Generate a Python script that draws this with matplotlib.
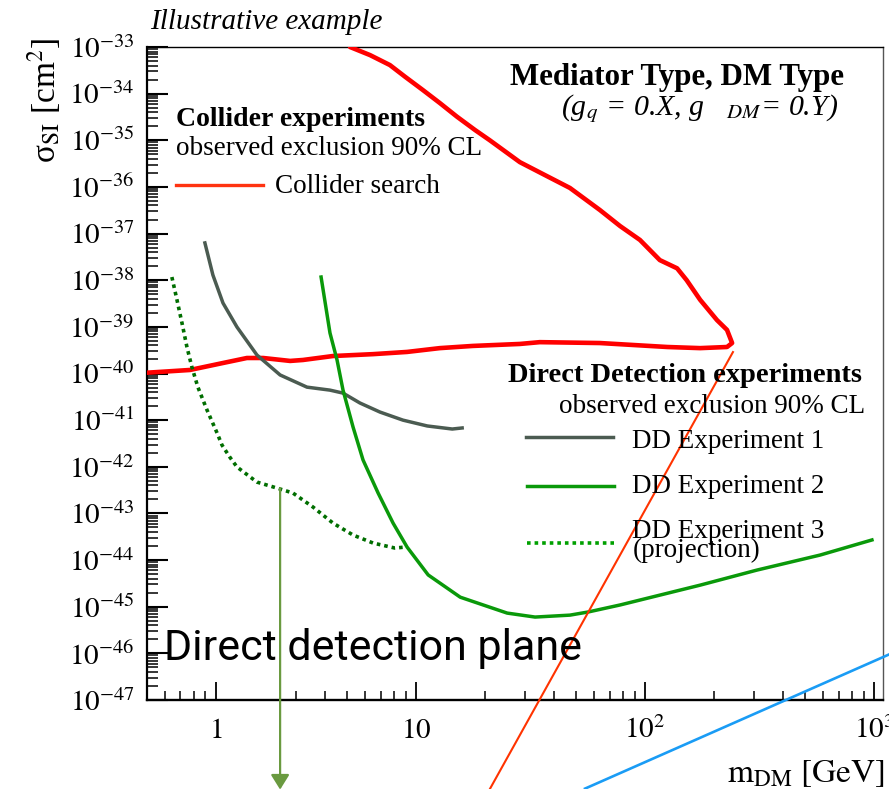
import numpy as np
import matplotlib
matplotlib.use("Agg")
import matplotlib.pyplot as plt
from matplotlib.lines import Line2D

# ---------------- data ----------------
red_x = [5.15, 6.3, 7.69, 8.96, 10.7, 12.7, 15.1, 18.1, 21.0, 28.4, 36.5, 47, 63.5, 77.8, 95, 116, 138, 152,
         174, 206, 228, 240,
         228, 174, 125, 63.5, 34.7, 28.4, 17.7, 12.7, 9.14, 6.49, 4.34, 3.21, 2.82, 2.15, 1.71, 1.13, 0.77, 0.5]
red_y = [1e-33, 6.7e-34, 4.1e-34, 2.3e-34, 1.2e-34, 6.3e-35, 3.2e-35, 1.66e-35, 1.0e-35, 3.4e-36, 1.8e-36,
         9.5e-37, 3.2e-37, 1.45e-37, 7.3e-38, 2.7e-38, 1.8e-38, 1.0e-38, 3.8e-39, 1.4e-39, 8.6e-40, 4.5e-40,
         3.7e-40, 3.5e-40, 3.7e-40, 4.5e-40, 4.7e-40, 4.3e-40, 3.9e-40, 3.5e-40, 2.9e-40, 2.6e-40, 2.37e-40,
         1.95e-40, 1.86e-40, 2.15e-40, 2.15e-40, 1.68e-40, 1.19e-40, 1.04e-40]

dd1_x = [0.895, 0.97, 1.13, 1.44, 2.02, 2.55, 3.34, 4.21, 4.8, 5.69, 6.96, 8.77, 11.2, 14.4, 15.9]
dd1_y = [6.3e-38, 1.29e-38, 3.24e-39, 9.9e-40, 2.49e-40, 9.3e-41, 5.1e-41, 4.4e-41, 3.8e-41, 2.33e-41,
         1.49e-41, 1.0e-41, 7.5e-42, 6.45e-42, 6.8e-42]

dd2_x = [3.85, 4.21, 4.52, 4.8, 5.31, 5.87, 6.83, 7.94, 9.14, 11.3, 15.6, 25, 33.1, 47, 56.4, 77.8,
         174, 308, 581, 979]
dd2_y = [1.17e-38, 7.4e-40, 1.95e-40, 4.4e-41, 7.1e-42, 1.4e-42, 2.74e-43, 6.2e-44, 1.9e-44, 4.8e-45,
         1.6e-45, 7.3e-46, 6.0e-46, 6.6e-46, 7.7e-46, 1.09e-45, 2.9e-45, 6.1e-45, 1.28e-44, 2.7e-44]

dd3_x = [0.642, 0.676, 0.711, 0.747, 0.785, 0.834, 0.914, 1.02, 1.11, 1.27, 1.44, 2.02, 2.47, 2.9, 3.55,
         4.34, 5.31, 6.49, 8.09, 8.96]
dd3_y = [1.17e-38, 3.76e-39, 1.2e-39, 3.7e-40, 1.38e-40, 5.1e-41, 1.65e-41, 5.3e-42, 2.93e-42, 1.62e-42,
         9.9e-43, 4.7e-43, 3.5e-43, 2.74e-43, 1.37e-43, 6.2e-44, 3.44e-44, 2.32e-44, 1.81e-44, 1.9e-44]

thin_red_x = [242, 21.0]
thin_red_y = [2.88e-40, 1.23e-49]

blue_x = [1164, 54.7]
blue_y = [9.5e-47, 1.26e-49]

arrow_x = 2.55
arrow_y_start = 3.5e-43
arrow_y_end = 1.2e-49

x_major = [1, 10, 100, 1000]
x_major_labels = ['$1$', '$10$', '$10^{2}$', '$10^{3}$']
x_minor = [0.6, 0.7, 0.8, 0.9, 3, 4, 5, 6, 7, 8, 9, 20, 30, 40, 50, 60, 70, 80, 90,
           200, 300, 400, 500, 600, 700, 800, 900]
y_exponents = list(range(-47, -32))
y_major = [10.0 ** e for e in y_exponents]
y_major_labels = ['$10^{%d}$' % e for e in y_exponents]

# ---------------- style ----------------
plt.rcParams['font.family'] = ['Liberation Serif', 'DejaVu Serif']
plt.rcParams['mathtext.fontset'] = 'stix'

W, H = 889, 789
fig = plt.figure(figsize=(W / 100, H / 100), dpi=100)


def fx(px):
    return px / W


def fy(py):
    return 1 - py / H


ax = fig.add_axes([fx(147), fy(700), fx(883) - fx(147), fy(47) - fy(700)])

# piecewise logarithmic x scale (compressed 1-2 GeV segment as in the reference)
L2 = np.log10(2.0)
K = 40.0 / 229.0


def fwd(x):
    x = np.asarray(x, dtype=float)
    with np.errstate(divide='ignore', invalid='ignore'):
        u = np.log10(x)
    return np.where(u <= 0, u, np.where(u < L2, u * K / L2, K + (u - L2)))


def inv(v):
    v = np.asarray(v, dtype=float)
    u = np.where(v <= 0, v, np.where(v < K, v * L2 / K, L2 + v - K))
    return 10.0 ** u


ax.set_xscale('function', functions=(fwd, inv))
ax.set_yscale('log')
ax.set_xlim(0.5, 1094)
ax.set_ylim(1e-47, 1e-33)

# curves
ax.plot(red_x, red_y, color='#ff0000', lw=3.3, solid_joinstyle='round', solid_capstyle='round', zorder=4)
ax.plot(dd1_x, dd1_y, color='#4b5b51', lw=2.5, solid_joinstyle='round', zorder=4)
ax.plot(dd2_x, dd2_y, color='#0a990a', lw=2.5, solid_joinstyle='round', zorder=4)
ax.plot(dd3_x, dd3_y, color='#006e00', lw=2.6, linestyle=(0, (1, 1.1)), zorder=4)
ax.plot(thin_red_x, thin_red_y, color='#ff3300', lw=1.5, clip_on=False, zorder=6)
ax.plot(blue_x, blue_y, color='#1a9cf5', lw=1.9, clip_on=False, zorder=6)
ax.annotate('', xy=(arrow_x, arrow_y_end), xytext=(arrow_x, arrow_y_start),
            arrowprops=dict(arrowstyle='-|>,head_length=0.45,head_width=0.28', color='#6a9a40', lw=1.6,
                            mutation_scale=20, shrinkA=0, shrinkB=0),
            annotation_clip=False, zorder=6)

# ticks
ax.set_xticks(x_major)
ax.set_xticklabels(x_major_labels)
ax.set_xticks(x_minor, minor=True)
ax.set_yticks(y_major)
ax.set_yticklabels(y_major_labels)
ax.yaxis.set_minor_locator(matplotlib.ticker.LogLocator(base=10, subs=np.arange(2, 10), numticks=100))
ax.yaxis.set_minor_formatter(matplotlib.ticker.NullFormatter())

ax.tick_params(axis='both', which='both', direction='in', top=False, right=False, colors='black')
ax.tick_params(axis='y', which='major', length=15, width=1.5, labelsize=21, pad=9)
ax.tick_params(axis='y', which='minor', length=8, width=1.1)
ax.tick_params(axis='x', which='major', length=13, width=1.3, labelsize=21, pad=27)
ax.tick_params(axis='x', which='minor', length=6.5, width=1.1)
for lab in ax.get_xticklabels():
    lab.set_verticalalignment('baseline')

ax.spines['left'].set_linewidth(1.6)
ax.spines['bottom'].set_linewidth(1.7)
ax.spines['top'].set_linewidth(1.0)
ax.spines['right'].set_linewidth(1.0)
ax.spines['right'].set_color('#555555')

# axis titles
fig.text(fx(44), fy(38), r'σ$_{\mathrm{SI}}$ [cm$^{2}$]', rotation=90, ha='center', va='top',
         fontsize=24)
fig.text(fx(885), fy(782), r'$\mathrm{m_{DM}\ [GeV]}$', ha='right', va='baseline', fontsize=24)

# header
fig.text(fx(150), fy(29), 'Illustrative example', style='italic', fontsize=21, ha='left', va='baseline')

# collider legend
fig.text(fx(176), fy(126), 'Collider experiments', fontweight='bold', fontsize=20, ha='left', va='baseline')
fig.text(fx(176), fy(155), 'observed exclusion 90% CL', fontsize=19.5, ha='left', va='baseline')
fig.add_artist(Line2D([fx(176), fx(263)], [fy(185), fy(185)], color='#ff3311', lw=2.4))
fig.text(fx(275), fy(193), 'Collider search', fontsize=19.5, ha='left', va='baseline')

# model label
fig.text(fx(844), fy(85), 'Mediator Type, DM Type', fontweight='bold', fontsize=22.3, ha='right',
         va='baseline')
fig.text(fx(838), fy(115), r'(g${}_{\mathit{q}}$ = 0.X, g   ${}_{\mathit{DM}}$= 0.Y)', style='italic',
         fontsize=21.5, ha='right', va='baseline')

# direct detection legend
fig.text(fx(862), fy(382), 'Direct Detection experiments', fontweight='bold', fontsize=20.5, ha='right',
         va='baseline')
fig.text(fx(865), fy(413), 'observed exclusion 90% CL', fontsize=19.5, ha='right', va='baseline')
fig.add_artist(Line2D([fx(526), fx(613)], [fy(437), fy(437)], color='#4b5b51', lw=2.5))
fig.text(fx(632), fy(448), 'DD Experiment 1', fontsize=19.5, ha='left', va='baseline')
fig.add_artist(Line2D([fx(527), fx(614)], [fy(486), fy(486)], color='#0a990a', lw=2.5))
fig.text(fx(632), fy(493), 'DD Experiment 2', fontsize=19.5, ha='left', va='baseline')
fig.add_artist(Line2D([fx(527), fx(614)], [fy(543), fy(543)], color='#00a000', lw=2.6,
                      linestyle=(0, (1, 1.1))))
fig.text(fx(632), fy(538), 'DD Experiment 3', fontsize=19.5, ha='left', va='baseline')
fig.text(fx(633), fy(557), '(projection)', fontsize=19.5, ha='left', va='baseline')

# plane label
fig.text(fx(164), fy(660), 'Direct detection plane', fontsize=31, ha='left', va='baseline',
         family=['Roboto', 'DejaVu Sans'])

fig.savefig('out.png', dpi=100)
